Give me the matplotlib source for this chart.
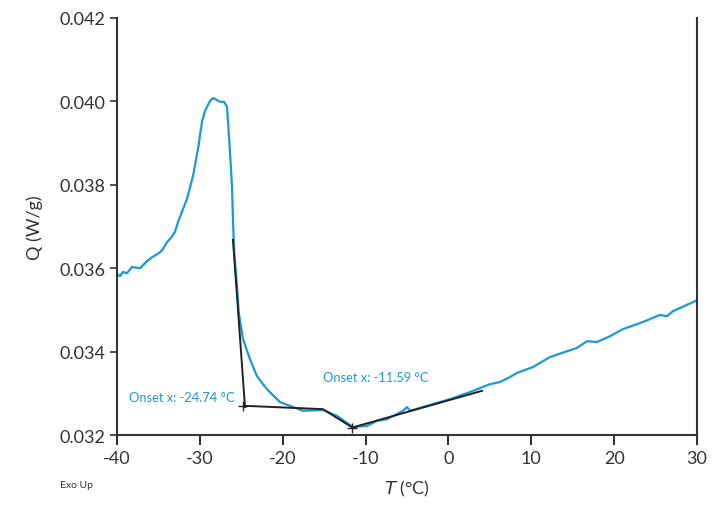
import numpy as np
import matplotlib.pyplot as plt

plt.rcParams['font.family'] = ['Lato', 'DejaVu Sans']
plt.rcParams['axes.unicode_minus'] = False

# DSC curve (temperature in °C, heat flow in W/g)
temp = [-40.0, -39.64, -39.28, -38.79, -38.19, -37.22, -36.38, -35.78, -34.81, -34.45,
        -33.97, -33.36, -33.00, -32.64, -32.03, -31.55, -30.83, -30.22, -29.74, -29.38,
        -28.78, -28.41, -27.93, -27.57, -27.09, -26.72, -26.60, -26.36, -26.12, -26.00,
        -25.88, -25.52, -25.28, -24.79, -23.95, -23.10, -22.50, -21.90, -20.33, -19.12,
        -17.55, -15.14, -13.45, -11.52, -9.83, -8.62, -7.41, -5.48, -5.00, -4.64,
        -2.59, 0.19, 2.60, 5.02, 6.22, 7.43, 8.28, 10.21, 12.26, 15.52,
        16.72, 17.93, 19.50, 21.07, 23.48, 25.53, 26.38, 27.10, 30.0]
heat = [0.03586, 0.03581, 0.03591, 0.03588, 0.03603, 0.03600, 0.03617, 0.03626, 0.03638, 0.03646,
        0.03662, 0.03676, 0.03687, 0.03710, 0.03742, 0.03766, 0.03821, 0.03886, 0.03951, 0.03977,
        0.04001, 0.04008, 0.04003, 0.03999, 0.03999, 0.03987, 0.03951, 0.03879, 0.03797, 0.03718,
        0.03646, 0.03557, 0.03490, 0.03430, 0.03382, 0.03341, 0.03325, 0.03310, 0.03279, 0.03270,
        0.03258, 0.03260, 0.03246, 0.03219, 0.03222, 0.03234, 0.03238, 0.03258, 0.03267, 0.03258,
        0.03270, 0.03286, 0.03303, 0.03322, 0.03327, 0.03339, 0.03349, 0.03363, 0.03387, 0.03409,
        0.03425, 0.03423, 0.03437, 0.03454, 0.03471, 0.03488, 0.03485, 0.03497, 0.03523]

# onset tangent constructions
tan1_x = [-26.0, -24.55]
tan1_y = [0.03668, 0.03267]
tan2_x = [-24.55, -15.14, -11.59, 4.05]
tan2_y = [0.03270, 0.03262, 0.03218, 0.03306]
onsets = [-24.74, -11.59]
onset_y = [0.03270, 0.03218]

blue = '#1a9ad8'

fig = plt.figure(figsize=(7.12, 5.06), dpi=100)
ax = fig.add_axes([0.1643, 0.1383, 0.8146, 0.8242])

ax.plot(temp, heat, color=blue, lw=1.6)
ax.plot(tan1_x, tan1_y, color='#222222', lw=1.4)
ax.plot(tan2_x, tan2_y, color='#222222', lw=1.4)
ax.plot(onsets, onset_y, '+', color='#222222', ms=7, mew=1.0)

ax.text(-38.5, 0.03277, 'Onset x: -24.74 °C', color=blue, fontsize=9.3, va='bottom')
ax.text(-15.1, 0.03324, 'Onset x: -11.59 °C', color=blue, fontsize=9.3, va='bottom')

ax.set_xlim(-40, 30)
ax.set_ylim(0.032, 0.042)
ax.set_xticks(np.arange(-40, 31, 10))
ax.set_yticks(np.arange(0.032, 0.0421, 0.002))
ax.set_yticklabels(['0.032', '0.034', '0.036', '0.038', '0.040', '0.042'])

ax.spines['top'].set_visible(False)
for s in ['left', 'bottom', 'right']:
    ax.spines[s].set_linewidth(1.5)
    ax.spines[s].set_color('#333333')
ax.tick_params(axis='x', direction='out', length=7, width=1.5, labelsize=13, pad=4, colors='#333333')
ax.tick_params(axis='y', direction='out', length=5, width=1.2, labelsize=13, pad=3, colors='#333333')
ax.tick_params(right=False)

ax.set_xlabel(r'$T$ (°C)', fontsize=13, color='#333333', labelpad=8)
ax.set_ylabel('Q (W/g)', fontsize=13, color='#333333', labelpad=12)
fig.text(60 / 712, 1 - 486 / 506, 'Exo Up', fontsize=7.5, color='#333333', va='center')

fig.savefig('out.png', dpi=100)
